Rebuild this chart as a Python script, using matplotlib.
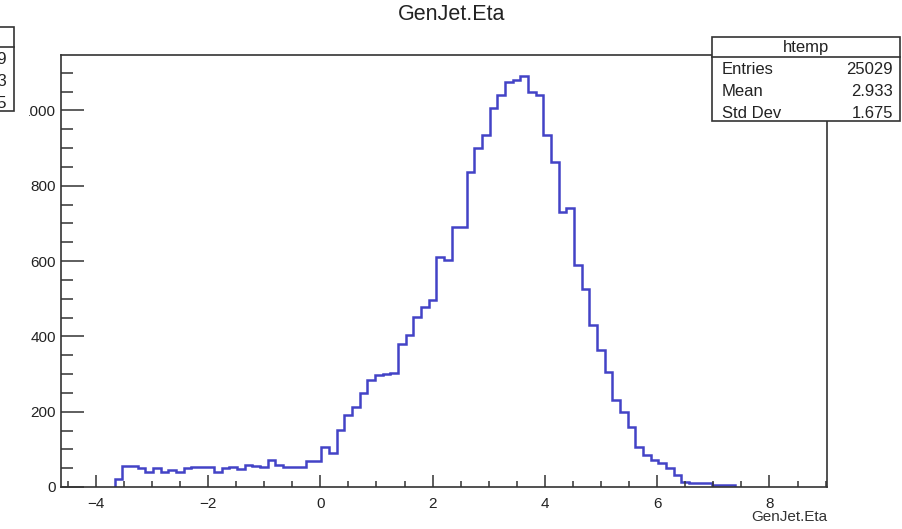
import numpy as np
import matplotlib.pyplot as plt
from matplotlib.patches import Rectangle
from matplotlib.lines import Line2D
from matplotlib.ticker import MultipleLocator
from matplotlib.transforms import Bbox, TransformedBbox

plt.rcParams['font.family'] = ['Liberation Sans', 'DejaVu Sans']

# histogram htemp: 100 bins of GenJet.Eta
x_lo, x_hi = -4.62, 9.02
counts = np.array([
    0, 0, 0, 0, 0, 0, 0, 20, 56, 57,
    50, 41, 50, 41, 45, 41, 50, 52, 54, 52,
    41, 50, 52, 47, 58, 56, 52, 71, 58, 52,
    52, 52, 69, 69, 107, 89, 151, 191, 213, 249,
    284, 298, 300, 304, 381, 403, 452, 479, 496, 611,
    603, 691, 691, 837, 899, 934, 1005, 1041, 1076, 1080,
    1091, 1049, 1041, 934, 864, 731, 740, 589, 527, 430,
    364, 306, 231, 200, 160, 107, 85, 72, 63, 50,
    32, 14, 11, 11, 11, 5, 5, 5, 0, 0,
    0, 0, 0, 0, 0, 0, 0, 0, 0, 0,
])
y_max = 1147

title = 'GenJet.Eta'
x_label = 'GenJet.Eta'
stats_name = 'htemp'
stats_keys = ['Entries', 'Mean', 'Std Dev']
stats_vals = ['25029', '2.933', '1.675']

W, H = 903, 529
fig = plt.figure(figsize=(W / 100, H / 100), dpi=100)


def fx(px):
    return px / W


def fy(py):
    return 1 - py / H


ax = fig.add_axes([fx(61), fy(487), fx(826.7) - fx(61), fy(55) - fy(487)])

edges = np.linspace(x_lo, x_hi, len(counts) + 1)
nz = np.nonzero(counts)[0]
a, b = nz[0], nz[-1] + 1
ax.stairs(counts[a:b], edges[a:b + 1], color='#4343c6', lw=1.8, baseline=0)

ax.set_xlim(x_lo, x_hi)
ax.set_ylim(0, y_max)
ax.set_xticks(np.arange(-4, 9, 2))
ax.set_yticks(np.arange(0, 1001, 200))
ax.xaxis.set_minor_locator(MultipleLocator(0.5))
ax.yaxis.set_minor_locator(MultipleLocator(50))
ax.tick_params(axis='both', which='both', direction='in', colors='#333333',
               labelcolor='#222222', labelsize=11, width=1.1)
ax.tick_params(axis='x', which='major', length=8.6, pad=7)
ax.tick_params(axis='x', which='minor', length=4.3)
ax.tick_params(axis='y', which='major', length=16.5, pad=3.5)
ax.tick_params(axis='y', which='minor', length=8.3)
for s in ax.spines.values():
    s.set_color('#333333')
    s.set_linewidth(1.2)

fig.text(fx(452), fy(14), title, ha='center', va='center', fontsize=15.5, color='#222222')
fig.text(fx(827), fy(517), x_label, ha='right', va='center', fontsize=11, color='#333333')


def stats_box(right, top, values, labels=True):
    # ROOT style statistics box, drawn in figure pixels
    left, bottom = right - 188, top + 84
    fig.add_artist(Rectangle((fx(left), fy(bottom)), fx(right) - fx(left), fy(top) - fy(bottom),
                             transform=fig.transFigure, fc='white', ec='#333333', lw=1.2, zorder=5))
    fig.add_artist(Line2D([fx(left), fx(right)], [fy(top + 20), fy(top + 20)],
                          transform=fig.transFigure, color='#333333', lw=1.2, zorder=6))
    if labels:
        fig.text(fx((left + right) / 2), fy(top + 10.5), stats_name, ha='center', va='center',
                 fontsize=12, color='#222222', zorder=7)
    for i, v in enumerate(values):
        yy = fy(top + 33 + 21.5 * i)
        if labels:
            fig.text(fx(left + 10), yy, stats_keys[i], ha='left', va='center',
                     fontsize=12, color='#222222', zorder=7)
        fig.text(fx(right - 7), yy, v, ha='right', va='center', fontsize=12, color='#222222', zorder=7)


stats_box(900, 37, stats_vals)
# fragment of the neighbouring pad's box, cut by the picture edge
stats_box(14, 27, stats_vals, labels=False)

# the neighbouring pad hides the left part of the "1000" label
fig.canvas.draw()
clip = TransformedBbox(Bbox.from_extents(29.5 / W, 0, 1, 1), fig.transFigure)
for t in ax.get_yticklabels():
    t.set_clip_box(clip)
    t.set_clip_on(True)

fig.savefig('out.png', dpi=100)
